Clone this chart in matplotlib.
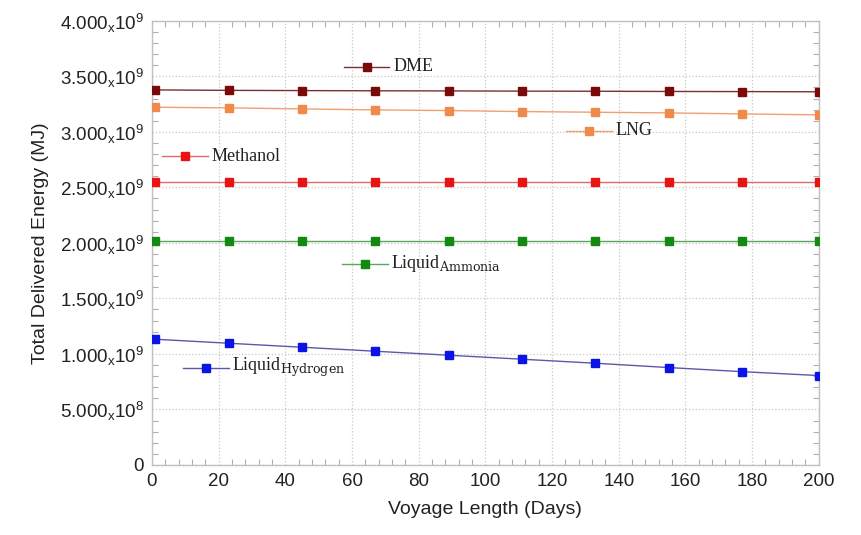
#!/usr/bin/env python3
"""Total delivered energy vs voyage length for each fuel"""

import matplotlib
matplotlib.use('Agg')
import matplotlib.pyplot as plt
from matplotlib.ticker import MultipleLocator, FuncFormatter

plt.rcParams['font.family'] = ['Liberation Sans', 'DejaVu Sans']
plt.rcParams['mathtext.fontset'] = 'custom'
plt.rcParams['mathtext.rm'] = 'Liberation Sans'
plt.rcParams['mathtext.it'] = 'Liberation Sans:italic'

# Data
days = [1, 23, 45, 67, 89, 111, 133, 155, 177, 200]
dme = [3.378e9, 3.374e9, 3.372e9, 3.370e9, 3.369e9, 3.367e9, 3.366e9, 3.364e9, 3.363e9, 3.361e9]
lng = [3.222e9, 3.216e9, 3.207e9, 3.198e9, 3.192e9, 3.183e9, 3.177e9, 3.171e9, 3.162e9, 3.153e9]
methanol = [2.55e9] * 10
ammonia = [2.018e9] * 10
hydrogen = [1.132e9, 1.096e9, 1.060e9, 1.024e9, 0.988e9, 0.952e9, 0.916e9, 0.877e9, 0.840e9, 0.805e9]

# (series, marker colour, line colour, label, label pos (x, y))
series = [
    (dme, '#7a0a0a', '#7a3030', 'DME', (57.5, 3.585e9)),
    (lng, '#f08a4b', '#f0a070', 'LNG', (124.3, 3.01e9)),
    (methanol, '#e81414', '#e06a6a', 'Methanol', (3.0, 2.78e9)),
    (ammonia, '#128a12', '#5aa65a', r'Liquid$_{\mathrm{Ammonia}}$', (57.0, 1.81e9)),
    (hydrogen, '#0a14e6', '#5a5aa8', r'Liquid$_{\mathrm{Hydrogen}}$', (9.3, 0.874e9)),
]

fig = plt.figure(figsize=(8.61, 5.35), dpi=100, facecolor='white')
ax = fig.add_axes([0.1765, 0.131, 0.7745, 0.830])

for vals, mc, lc, label, (lx, ly) in series:
    ax.plot(days, vals, '-', color=lc, lw=1.0, zorder=3)
    ax.plot(days, vals, 's', color=mc, ms=6.3, zorder=4)
    # inline legend sample
    ax.plot([lx, lx + 13.7], [ly, ly], '-', color=lc, lw=1.0, zorder=3)
    ax.plot([lx + 6.9], [ly], 's', color=mc, ms=6.3, zorder=4)
    ax.text(lx + 14.8, ly, label, ha='left', va='center', fontsize=13,
            family=['Liberation Serif'], color='#222222',
            math_fontfamily='dejavuserif')

ax.set_xlim(0, 200)
ax.set_ylim(0, 4e9)
ax.xaxis.set_major_locator(MultipleLocator(20))
ax.xaxis.set_minor_locator(MultipleLocator(4))
ax.yaxis.set_major_locator(MultipleLocator(5e8))
ax.yaxis.set_minor_locator(MultipleLocator(1e8))


def ylab(v, pos):
    if v == 0:
        return '0'
    exp = 9 if v >= 1e9 else 8
    return r'$\mathregular{%.3f_{x}10^{%d}}$' % (v / 10 ** exp, exp)


ax.yaxis.set_major_formatter(FuncFormatter(ylab))

ax.grid(True, which='major', ls=':', color='#c8c8c8', lw=0.9)
ax.tick_params(which='both', direction='in', top=True, right=True,
               colors='#b0b0b0', labelcolor='#222222')
ax.tick_params(which='major', length=0, labelsize=13.5, pad=6)
ax.tick_params(which='minor', length=4, width=0.8)
for s in ax.spines.values():
    s.set_color('#c0c0c0')
    s.set_linewidth(1.0)

ax.set_xlabel('Voyage Length (Days)', fontsize=14, color='#222222', labelpad=8)
ax.set_ylabel('Total Delivered Energy (MJ)', fontsize=14, color='#222222', labelpad=8)

plt.savefig('out.png', dpi=100, facecolor='white')
